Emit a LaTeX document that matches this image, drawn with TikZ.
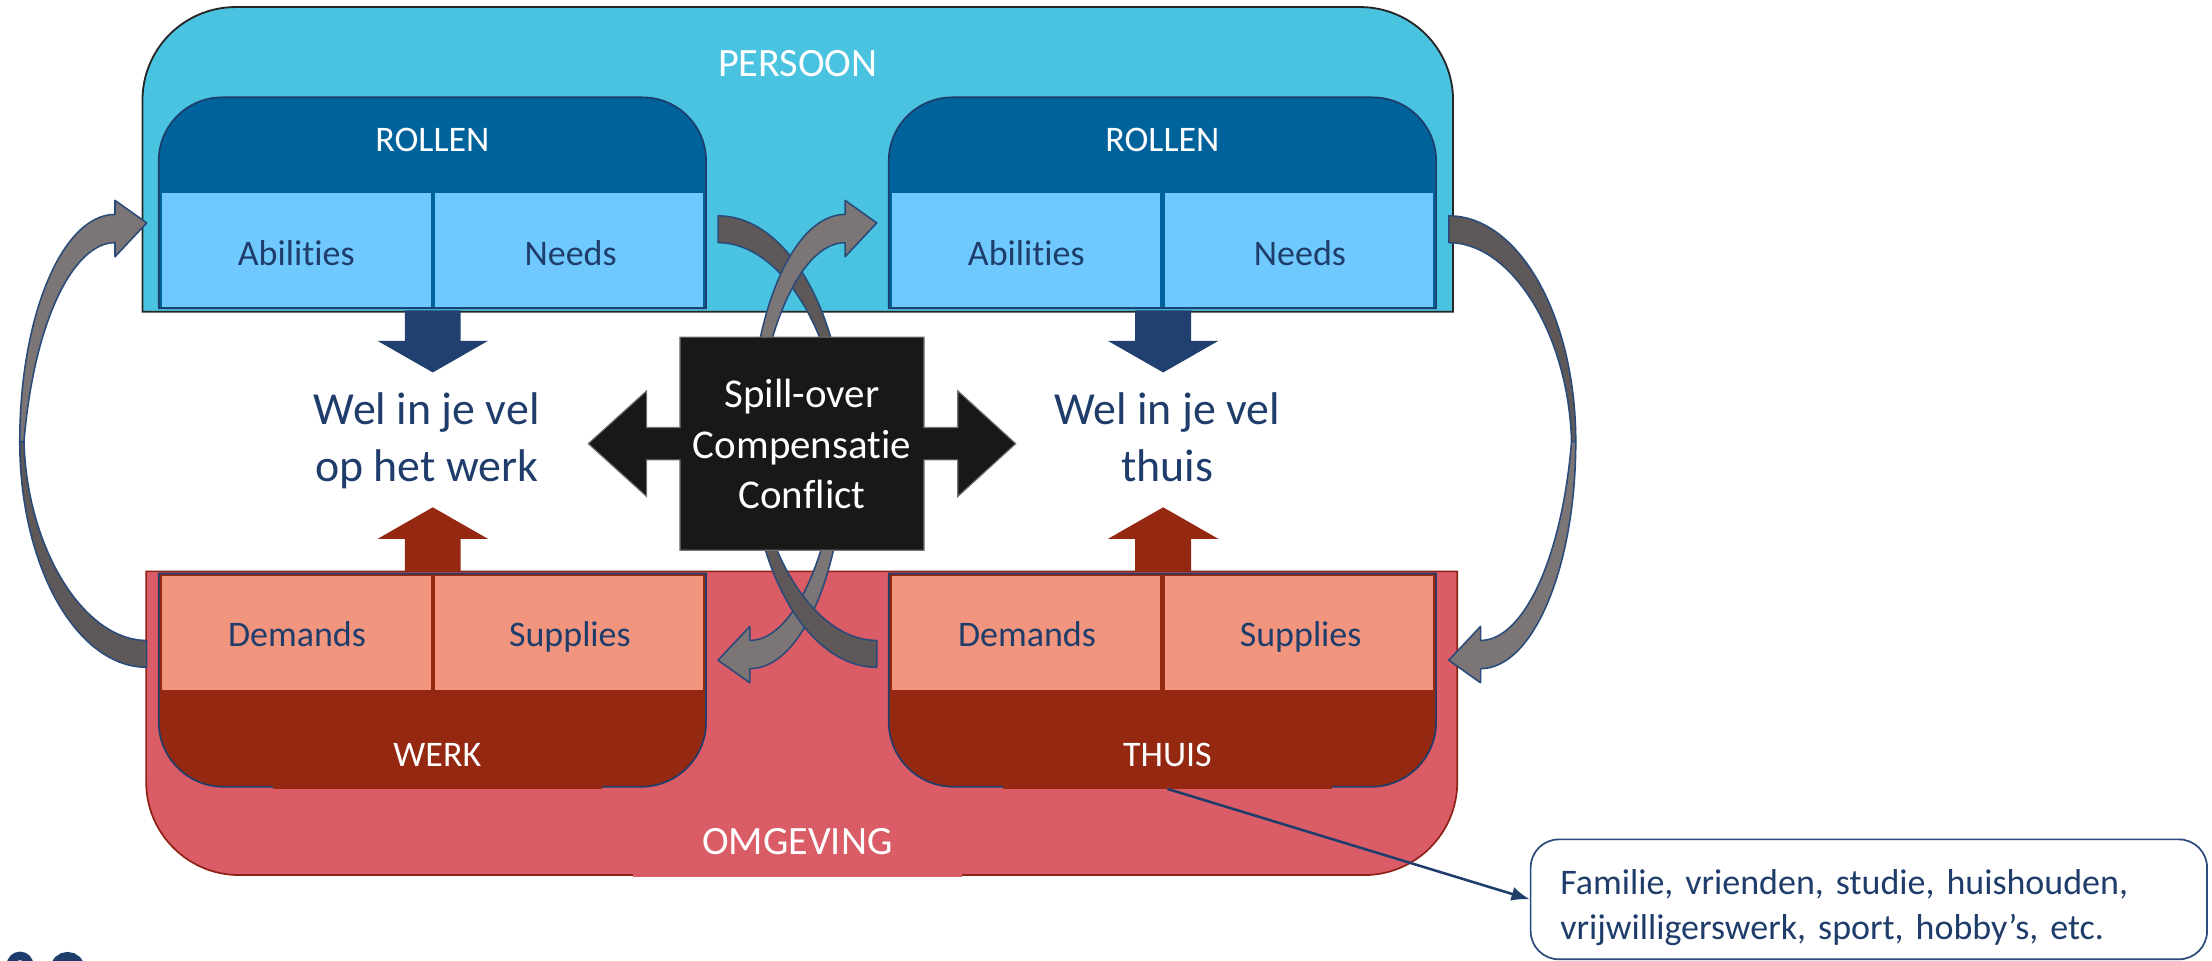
\documentclass[tikz,border=0pt]{standalone}
\usepackage{fontspec}
\setmainfont{Carlito}[Ligatures={NoCommon}]
\usetikzlibrary{arrows.meta}
\definecolor{persoonc}{HTML}{4AC3E0}
\definecolor{rollenc}{HTML}{00629B}
\definecolor{cellblue}{HTML}{70C9FE}
\definecolor{navy}{HTML}{1F3D6B}
\definecolor{arrownavy}{HTML}{20416F}
\definecolor{omgc}{HTML}{DA5C66}
\definecolor{werkc}{HTML}{952811}
\definecolor{salmon}{HTML}{F1957E}
\definecolor{blackc}{HTML}{1A1817}
\definecolor{graylight}{HTML}{7B7675}
\definecolor{graydark}{HTML}{5E5958}
\definecolor{omgborder}{HTML}{8E2215}
\definecolor{bordernavy}{HTML}{2A4A7A}

% box with rounded top corners: x1 x2 ytop ybottom radius style
\newcommand\toprnd[6]{\path[#6] (#1,#4) -- (#1,{#3+#5}) .. controls (#1,{#3+0.4477*#5}) and ({#1+0.4477*#5},#3) .. ({#1+#5},#3) -- ({#2-#5},#3) .. controls ({#2-0.4477*#5},#3) and (#2,{#3+0.4477*#5}) .. (#2,{#3+#5}) -- (#2,#4) -- cycle;}
% box with rounded bottom corners
\newcommand\botrnd[6]{\path[#6] (#1,#3) -- (#1,{#4-#5}) .. controls (#1,{#4-0.4477*#5}) and ({#1+0.4477*#5},#4) .. ({#1+#5},#4) -- ({#2-#5},#4) .. controls ({#2-0.4477*#5},#4) and (#2,{#4-0.4477*#5}) .. (#2,{#4-#5}) -- (#2,#3) -- cycle;}
% curved ribbon arrow: x of tail, rotation
\newcommand\curvedarr[2]{%
\begin{scope}[shift={(#1,313)},rotate=#2]
\path[fill=graydark,draw=bordernavy,line width=1.1pt,line join=round] (0,160) .. controls (-49.7,160) and (-90,88.4) .. (-90,0) -- (-87,0) .. controls (-85,75) and (-45,141) .. (0,141) -- cycle;
\path[fill=graylight,draw=bordernavy,line width=1.1pt,line join=round] (-90,0) .. controls (-90,-88.9) and (-59.8,-161) .. (-22.5,-161) -- (-22.5,-171) -- (0,-155) -- (-22.5,-131) -- (-22.5,-141) .. controls (-52,-141) and (-80,-85) .. (-87,0) -- cycle;
\end{scope}}
% block arrows
\newcommand\downarr[1]{\fill[arrownavy] ({#1-19.8},220) -- ({#1+19.8},220) -- ({#1+19.8},241.7) -- ({#1+39},241.7) -- (#1,264) -- ({#1-39},241.7) -- ({#1-19.8},241.7) -- cycle;}
\newcommand\uparr[1]{\fill[werkc] ({#1-19.8},405) -- ({#1+19.8},405) -- ({#1+19.8},381.9) -- ({#1+39},381.9) -- (#1,359.6) -- ({#1-39},381.9) -- ({#1-19.8},381.9) -- cycle;}

\tikzset{
  boxtext/.style={anchor=base,font=\fontsize{25.5}{30}\selectfont},
  celltext/.style={boxtext,text=navy},
  headtext/.style={boxtext,text=white},
  bigtext/.style={text=white,font=\fontsize{28.5}{34}\selectfont},
  weltext/.style={anchor=base,align=center,text=navy,font=\fontsize{32.5}{40.6}\selectfont},
}

\begin{document}
\begin{tikzpicture}[x=1pt,y=-1pt,every node/.style={inner sep=0pt}]
\useasboundingbox (0,0) rectangle (1568,681);
\fill[white] (0,0) rectangle (1568,681);

% PERSOON
\toprnd{101}{1030}{5}{221}{66}{fill=persoonc,draw=black!85,line width=1.3pt}
\node[bigtext,anchor=base] (persoon) at (565.5,54.5) {PERSOON};

% ROLLEN boxes
\toprnd{112.5}{500.5}{69}{218.5}{45}{fill=rollenc,draw=navy,line width=1.2pt}
\toprnd{630}{1018}{69}{218.5}{45}{fill=rollenc,draw=navy,line width=1.2pt}
\fill[cellblue] (115,137) rectangle (305.3,217.3);
\fill[cellblue] (308.7,137) rectangle (498,217.3);
\fill[cellblue] (632.5,137) rectangle (822.3,217.3);
\fill[cellblue] (825.7,137) rectangle (1015.5,217.3);
\node[headtext] (rollenL) at (306.5,107.5) {ROLLEN};
\node[headtext] (rollenR) at (824,107.5) {ROLLEN};
\node[celltext] (abL) at (210,188) {Abilities};
\node[celltext] (neL) at (404.5,188) {Needs};
\node[celltext] (abR) at (727.5,188) {Abilities};
\node[celltext] (neR) at (921.5,188) {Needs};

% OMGEVING
\botrnd{103.6}{1033}{405}{620.3}{66}{fill=omgc,draw=omgborder,line width=1.2pt}
\node[bigtext,fill=omgc,minimum width=233pt,minimum height=50pt] (omgeving) at (565.2,596.4) {OMGEVING};

% WERK / THUIS boxes
\botrnd{112.5}{500.5}{406.5}{557.7}{46}{fill=werkc,draw=navy,line width=1.2pt}
\botrnd{630}{1018}{406.5}{557.7}{46}{fill=werkc,draw=navy,line width=1.2pt}
\fill[salmon] (115,408) rectangle (305.3,489);
\fill[salmon] (308.7,408) rectangle (498,489);
\fill[salmon] (632.5,408) rectangle (822.3,489);
\fill[salmon] (825.7,408) rectangle (1015.5,489);
\node[celltext] (deL) at (210.5,458.5) {Demands};
\node[celltext] (suL) at (404,458.5) {Supplies};
\node[celltext] (deR) at (728,458.5) {Demands};
\node[celltext] (suR) at (922,458.5) {Supplies};
\node[text=white,font=\fontsize{25.5}{30}\selectfont,fill=werkc,minimum width=233pt,minimum height=47.2pt] (werk) at (310,535.4) {WERK};
\node[text=white,font=\fontsize{25.5}{30}\selectfont,fill=werkc,minimum width=233pt,minimum height=47.2pt] (thuis) at (827.5,535.4) {THUIS};

% curved arrows
\curvedarr{104}{0}
\curvedarr{1027}{180}
\curvedarr{509}{180}
\curvedarr{621.5}{0}

% block arrows
\downarr{306.8}
\downarr{824.5}
\uparr{306.8}
\uparr{824.5}

% central callout with double arrow
\path[fill=blackc,draw=black!55,line width=0.8pt] (417,314.5) -- (458.4,277) -- (458.4,303) -- (482,303) -- (482,239) -- (655,239) -- (655,303) -- (678.9,303) -- (678.9,277) -- (720,314.5) -- (678.9,352) -- (678.9,326) -- (655,326) -- (655,390) -- (482,390) -- (482,326) -- (458.4,326) -- (458.4,352) -- cycle;
\node[anchor=base,align=center,text=white,font=\fontsize{29}{36}\selectfont] (spill) at (568.5,360.8) {Spill-over\\Compensatie\\Conflict};

% well-being texts
\node[weltext] (welwerk) at (302.5,341.4) {Wel in je vel\\op het werk};
\node[weltext] (welthuis) at (827.4,341.4) {Wel in je vel\\thuis};

% callout
\node[draw=bordernavy,line width=1.2pt,rounded corners=20pt,fill=white,minimum width=479.5pt,minimum height=85pt,text width=437.5pt,inner xsep=21pt,inner ysep=0pt,align=left,text=navy,font=\fontsize{25.5}{32}\selectfont] (callout) at (1324.75,637.5) {\rule{0pt}{30pt}Familie, vrienden, studie, huishouden,\\vrijwilligerswerk, sport, hobby’s, etc.};
\draw[navy,line width=1.8pt,-{Latex[length=13pt,width=10pt]}] (thuis.south) -- (callout.west);

% partial logo at bottom left
\begin{scope}
\clip (0,0) rectangle (1568,681);
\draw[navy,line width=6pt] (14.2,684.1) circle (6.5);
\draw[navy,line width=6.4pt] (47.9,687.2) circle (9.2);
\end{scope}
\end{tikzpicture}
\end{document}
